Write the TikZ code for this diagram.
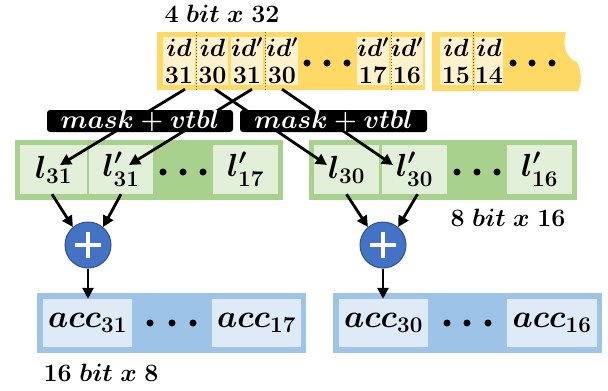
\RequirePackage{fix-cm}
\documentclass[tikz,border=0pt]{standalone}
\usepackage{amsmath}
\usetikzlibrary{arrows.meta}

\definecolor{idband}{HTML}{FFD966}
\definecolor{idfill}{HTML}{FFF2CC}
\definecolor{lband}{HTML}{A9D18E}
\definecolor{lfill}{HTML}{E2F0D9}
\definecolor{accband}{HTML}{9DC3E6}
\definecolor{accfill}{HTML}{DEEBF7}
\definecolor{sumfill}{HTML}{4472C4}
\definecolor{sumline}{HTML}{2F528F}

\begin{document}
\begin{tikzpicture}[x=1pt,y=-1pt,
    idcell/.style={fill=idfill, inner sep=0pt, minimum height=48pt, align=center,
        font=\fontsize{25}{27}\selectfont\boldmath},
    lcell/.style={fill=lfill, inner sep=0pt, minimum height=49pt,
        font=\fontsize{32}{36}\selectfont\boldmath},
    acccell/.style={fill=accfill, inner sep=0pt, minimum height=48pt,
        font=\fontsize{32}{36}\selectfont\boldmath},
    maskbox/.style={fill=black, text=white, rounded corners=3pt, inner sep=0pt,
        minimum height=22pt, font=\fontsize{26}{28}\selectfont\boldmath},
    sizelabel/.style={inner sep=0pt, font=\fontsize{25}{28}\selectfont\boldmath},
    sum/.style={circle, fill=sumfill, draw=sumline, line width=1pt, minimum size=46pt,
        path picture={
            \draw[white, line width=4pt]
                ([xshift=-13pt]path picture bounding box.center) -- ([xshift=13pt]path picture bounding box.center)
                ([yshift=-13pt]path picture bounding box.center) -- ([yshift=13pt]path picture bounding box.center);
        }},
    arrow/.style={-{Triangle[length=11pt,width=11pt]}, line width=2.8pt},
    ]
    \useasboundingbox (0,0) rectangle (608,391);

    % packed 4-bit indices
    \node[sizelabel] (idsize) at (222,14) {$4\ bit\ x\ 32$};
    \fill[idband] (157,32) rectangle (425,90);
    \fill[idband] (432,32) -- (566,32)
        .. controls (562,46) and (566,58) .. (577,62)
        .. controls (582,72) and (582,84) .. (578,91) -- (432,91) -- cycle;
    \node[idcell, minimum width=32pt] (id31) at (179,61) {$id$\\$31$};
    \node[idcell, minimum width=31pt] (id30) at (212.5,61) {$id$\\$30$};
    \node[idcell, minimum width=30pt] (idp31) at (247,61) {$id'$\\$31$};
    \node[idcell, minimum width=30pt] (idp30) at (282,61) {$id'$\\$30$};
    \node[idcell, minimum width=32pt] (idp17) at (373,61) {$id'$\\$17$};
    \node[idcell, minimum width=28pt] (idp16) at (407,61) {$id'$\\$16$};
    \node[idcell, minimum width=32pt] (id15) at (456,61) {$id$\\$15$};
    \node[idcell, minimum width=28pt] (id14) at (489,61) {$id$\\$14$};
    \foreach \x in {196,265,391,473}
        \draw[gray!70!black, dotted, line width=1pt] (\x,32) -- (\x,90);
    \foreach \x in {307,327,347,513,532,552}
        \fill (\x,63) circle (3.5);

    % 8-bit lookup results
    \fill[lband] (15,140) rectangle (283,200);
    \fill[lband] (309,140) rectangle (577,200);
    \node[lcell, minimum width=67pt] (l31) at (53.5,169.5) {$l_{31}$};
    \node[lcell, minimum width=64pt] (lp31) at (121,169.5) {$l'_{31}$};
    \node[lcell, minimum width=65pt] (lp17) at (245.5,169.5) {$l'_{17}$};
    \node[lcell, minimum width=65pt] (l30) at (346.5,169.5) {$l_{30}$};
    \node[lcell, minimum width=65pt] (lp30) at (414.5,169.5) {$l'_{30}$};
    \node[lcell, minimum width=65pt] (lp16) at (539.5,169.5) {$l'_{16}$};
    \foreach \x in {163,183,203,457,477,497}
        \fill (\x,172) circle (3.5);
    \node[sizelabel] (lsize) at (508,218) {$8\ bit\ x\ 16$};

    % table lookups
    \draw[arrow] ([shift={(6pt,-4pt)}]id31.south) -- ([shift={(6.5pt,4.5pt)}]l31.center);
    \draw[arrow] ([shift={(2.5pt,-4pt)}]id30.south) -- ([shift={(-19.5pt,4.5pt)}]l30.center);
    \draw[arrow] ([shift={(5pt,-4pt)}]idp31.south) -- ([shift={(8pt,4.5pt)}]lp31.center);
    \draw[arrow] ([shift={(0pt,-4pt)}]idp30.south) -- ([shift={(-21.5pt,4.5pt)}]lp30.center);
    \node[maskbox, minimum width=186pt] (mask1) at (140,121) {$mask+vtbl$};
    \node[maskbox, minimum width=187pt] (mask2) at (333.5,121) {$mask+vtbl$};

    % adders
    \node[sum] (sum1) at (88,245) {};
    \node[sum] (sum2) at (383,245) {};
    \draw[arrow] ([xshift=-1.5pt]l31.south) -- (sum1.130);
    \draw[arrow] (lp31.south) -- (sum1.50);
    \draw[arrow] (l30.south) -- (sum2.130);
    \draw[arrow] ([xshift=3pt]lp30.south) -- (sum2.50);

    % 16-bit accumulators
    \fill[accband] (37,293) rectangle (306,353);
    \fill[accband] (333,293) rectangle (602,353);
    \node[acccell, minimum width=89pt] (acc31) at (87.5,323) {$acc_{31}$};
    \node[acccell, minimum width=89pt] (acc17) at (256.5,323) {$acc_{17}$};
    \node[acccell, minimum width=89pt] (acc30) at (383.5,323) {$acc_{30}$};
    \node[acccell, minimum width=90pt] (acc16) at (552,323) {$acc_{16}$};
    \foreach \x in {150,172,193,447,467,488}
        \fill (\x,323) circle (3.5);
    \node[sizelabel] (accsize) at (101,373) {$16\ bit\ x\ 8$};

    \draw[arrow] (sum1.south) -- (sum1 |- acc31.north);
    \draw[arrow] (sum2.south) -- (sum2 |- acc30.north);
\end{tikzpicture}
\end{document}
